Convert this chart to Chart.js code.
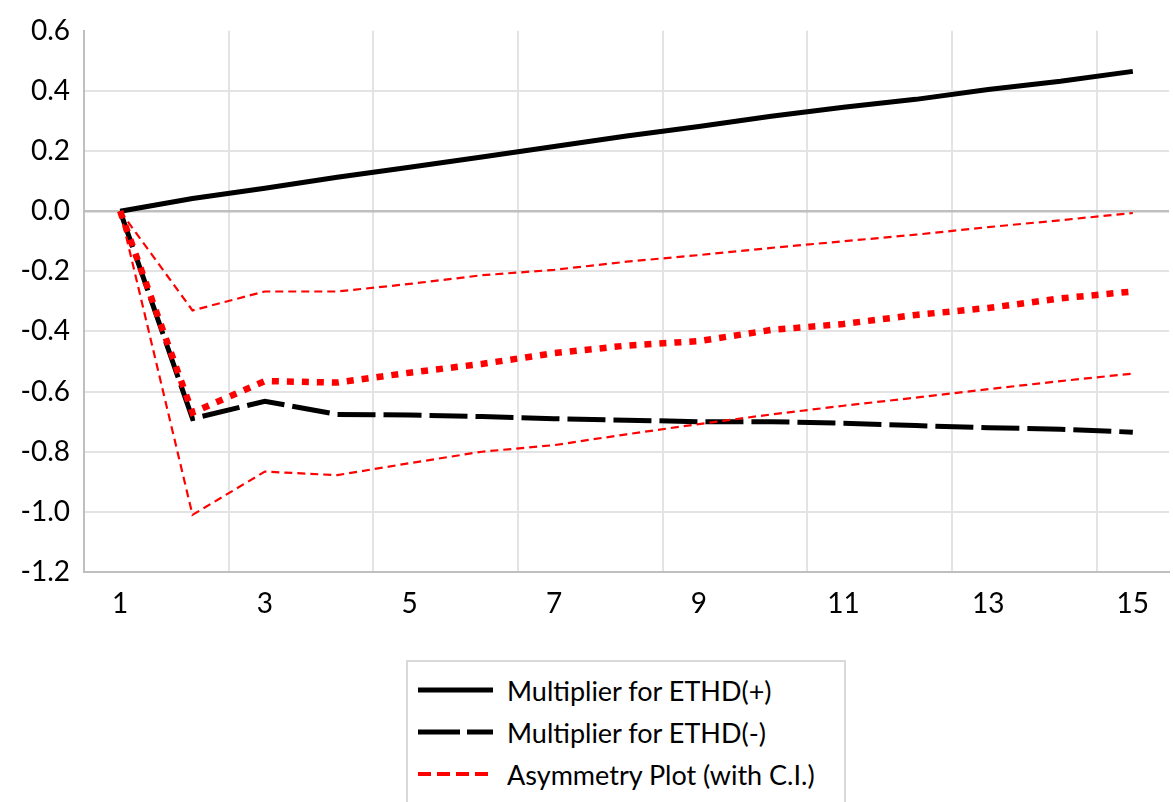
<!DOCTYPE html>
<html lang="en">
<head>
  <meta charset="UTF-8" />
  <title>Asymmetry plot - ETHD multipliers</title>
  <script src="https://cdn.jsdelivr.net/npm/chart.js"></script>
  <style>
    body {
      margin: 0;
      padding: 0;
      background: #fff;
      overflow: hidden;
      font-family: Lato, "Open Sans", sans-serif;
    }
    .wrap {
      position: relative;
      width: 1173px;
      height: 802px;
    }
    .legend {
      position: absolute;
      left: 406px;
      top: 660px;
      width: 436px;
      height: 160px;
      border: 2px solid #d9d9d9;
      background: #fff;
    }
    .legend .row {
      position: absolute;
      left: 10px;
      height: 36px;
      display: flex;
      align-items: center;
      font-size: 27px;
      color: #000;
      white-space: nowrap;
    }
    .legend svg {
      margin-right: 14px;
    }
  </style>
</head>
<body>
  <div class="wrap">
    <canvas id="asymChart" width="1173" height="802"></canvas>
    <div class="legend" id="legend"></div>
  </div>

  <script>
    // horizons 1..15
    const periods = ['1', '2', '3', '4', '5', '6', '7', '8', '9', '10', '11', '12', '13', '14', '15'];

    const ethdPos = [0, 0.042, 0.076, 0.113, 0.146, 0.18, 0.215, 0.25, 0.282, 0.316, 0.346, 0.372, 0.405, 0.432, 0.465];
    const ethdNeg = [0, -0.69, -0.632, -0.676, -0.678, -0.683, -0.69, -0.695, -0.70, -0.70, -0.705, -0.713, -0.72, -0.725, -0.735];
    const asymmetry = [0, -0.67, -0.565, -0.57, -0.537, -0.508, -0.472, -0.447, -0.432, -0.395, -0.375, -0.345, -0.322, -0.29, -0.267];
    const upperCI = [0, -0.33, -0.267, -0.267, -0.242, -0.213, -0.195, -0.168, -0.146, -0.122, -0.1, -0.078, -0.053, -0.03, -0.006];
    const lowerCI = [0, -1.01, -0.866, -0.878, -0.838, -0.80, -0.778, -0.742, -0.708, -0.676, -0.647, -0.62, -0.592, -0.565, -0.54];

    const legendNames = ['Multiplier for ETHD(+)', 'Multiplier for ETHD(-)', 'Asymmetry Plot (with C.I.)'];

    const gridColor = '#e3e3e3';
    const axisColor = '#bfbfbf';

    Chart.defaults.font.family = 'Lato, "Open Sans", sans-serif';
    Chart.defaults.color = '#000';

    const ctx = document.getElementById('asymChart').getContext('2d');
    new Chart(ctx, {
      type: 'line',
      data: {
        labels: periods,
        datasets: [
          { label: legendNames[0], data: ethdPos, borderColor: '#000', borderWidth: 5, order: 4 },
          { label: legendNames[1], data: ethdNeg, borderColor: '#000', borderWidth: 5, borderDash: [38, 8], order: 3 },
          { label: legendNames[2], data: asymmetry, borderColor: '#ff0000', borderWidth: 6.5, borderDash: [7, 8], order: 1 },
          { label: 'upper', data: upperCI, borderColor: '#ff0000', borderWidth: 2.2, borderDash: [8, 5], order: 2 },
          { label: 'lower', data: lowerCI, borderColor: '#ff0000', borderWidth: 2.2, borderDash: [8, 5], order: 2 }
        ]
      },
      options: {
        responsive: false,
        animation: false,
        elements: {
          point: { radius: 0 },
          line: { tension: 0, fill: false }
        },
        layout: { padding: { left: 0, top: 27, right: 4, bottom: 170 } },
        plugins: {
          legend: { display: false },
          tooltip: { enabled: false }
        },
        scales: {
          x: {
            offset: true,
            grid: {
              offset: true,
              drawTicks: false,
              lineWidth: 2,
              color: c => (c.index !== undefined && c.index > 0 && c.index % 2 === 0) ? gridColor : 'rgba(0,0,0,0)'
            },
            border: { color: axisColor, width: 2 },
            ticks: {
              autoSkip: false,
              maxRotation: 0,
              padding: 15,
              font: { size: 28 },
              callback: (v, i) => i % 2 === 0 ? periods[i] : ''
            },
            afterFit: s => { s.height = 60; }
          },
          y: {
            min: -1.2,
            max: 0.6,
            grid: {
              drawTicks: false,
              lineWidth: c => c.tick && c.tick.value === 0 ? 2.5 : 2,
              color: c => {
                if (!c.tick) return gridColor;
                const v = Math.round(c.tick.value * 10) / 10;
                if (v === 0.6) return 'rgba(0,0,0,0)';
                if (v === 0 || v === -1.2) return axisColor;
                return gridColor;
              }
            },
            border: { color: axisColor, width: 2 },
            ticks: {
              stepSize: 0.2,
              padding: 14,
              font: { size: 28 },
              callback: v => v.toFixed(1)
            },
            afterFit: s => { s.width = 84; }
          }
        }
      }
    });

    // legend box, drawn as html with line samples
    const samples = [
      { color: '#000', width: 5, dash: '' },
      { color: '#000', width: 5, dash: '42 7' },
      { color: '#ff0000', width: 4, dash: '13 6' }
    ];
    const rowTops = [10, 52, 94];
    const legend = document.getElementById('legend');
    legendNames.forEach((name, i) => {
      const s = samples[i];
      const row = document.createElement('div');
      row.className = 'row';
      row.style.top = rowTops[i] + 'px';
      row.innerHTML =
        '<svg width="75" height="12"><line x1="0" y1="6" x2="75" y2="6" stroke="' + s.color +
        '" stroke-width="' + s.width + '"' + (s.dash ? ' stroke-dasharray="' + s.dash + '"' : '') +
        '/></svg><span>' + name + '</span>';
      legend.appendChild(row);
    });
  </script>
</body>
</html>
